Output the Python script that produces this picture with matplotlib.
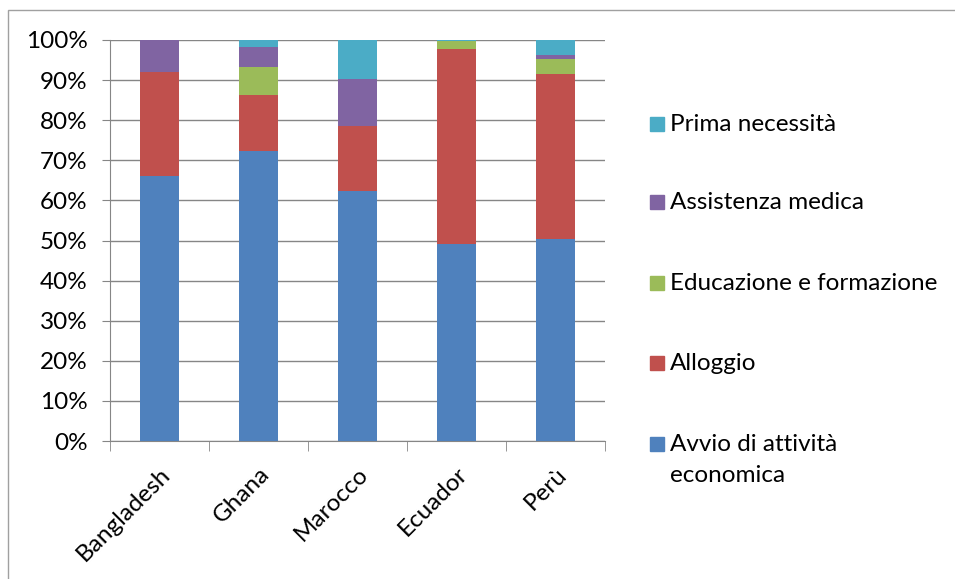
import matplotlib
matplotlib.use("Agg")
import matplotlib.pyplot as plt
from matplotlib.patches import Rectangle
from matplotlib.ticker import PercentFormatter
from matplotlib.transforms import ScaledTranslation

plt.rcParams["font.family"] = ["Lato", "DejaVu Sans"]

countries = ["Bangladesh", "Ghana", "Marocco", "Ecuador", "Perù"]
series = ["Avvio di attività\neconomica", "Alloggio", "Educazione e formazione",
          "Assistenza medica", "Prima necessità"]
colors = ["#4F81BD", "#C0504D", "#9BBB59", "#8064A2", "#4BACC6"]

avvio = [66.1, 72.3, 62.4, 49.2, 50.4]
alloggio = [25.9, 13.9, 16.2, 48.6, 41.2]
educazione = [0.0, 7.0, 0.0, 1.9, 3.7]
assistenza = [8.0, 5.0, 11.7, 0.1, 1.0]
prima = [0.0, 1.8, 9.7, 0.2, 3.7]
values = [avvio, alloggio, educazione, assistenza, prima]

fs = 17.5
fig = plt.figure(figsize=(9.55, 5.79), dpi=100)
ax = fig.add_axes([110 / 955, 1 - 441 / 579, 495 / 955, 401 / 579])

x = list(range(len(countries)))
bottom = [0.0] * len(countries)
for vals, col in zip(values, colors):
    ax.bar(x, vals, width=0.4, bottom=bottom, color=col, zorder=3)
    bottom = [b + v for b, v in zip(bottom, vals)]

grey = "#868686"
ax.set_xlim(-0.5, len(countries) - 0.5)
ax.set_ylim(0, 100)
ax.set_yticks(range(0, 101, 10))
ax.yaxis.set_major_formatter(PercentFormatter(decimals=0))
ax.grid(axis="y", color=grey, lw=1, zorder=0)
for s in ["top", "right"]:
    ax.spines[s].set_visible(False)
for s in ["left", "bottom"]:
    ax.spines[s].set_color(grey)
ax.set_xticks(x)
ax.set_xticklabels(countries, rotation=45, ha="right", va="top",
                   rotation_mode="anchor", fontsize=fs)
shift = ScaledTranslation(6 / 100, 0, fig.dpi_scale_trans)
for lab in ax.get_xticklabels():
    lab.set_transform(lab.get_transform() + shift)
ax.set_xticks([i - 0.5 for i in range(len(countries) + 1)], minor=True)
ax.tick_params(axis="x", which="major", length=0, pad=16)
ax.tick_params(axis="x", which="minor", length=7, color=grey)
ax.tick_params(axis="y", length=6, color=grey, labelsize=fs, pad=10)

# legend, top entry first
legend_y = [124, 202, 283, 363, 444]
for yy, name, col in zip(legend_y, series[::-1], colors[::-1]):
    fig.patches.append(Rectangle((650 / 955, 1 - (yy + 7) / 579), 14 / 955, 14 / 579,
                                 transform=fig.transFigure, color=col))
    for k, line in enumerate(name.split("\n")):
        fig.text(670 / 955, 1 - (yy + 7 + 31 * k) / 579, line, fontsize=fs,
                 va="baseline", ha="left")

fig.patches.append(Rectangle((8 / 955, -0.1), 1.1, 1.1 - 10 / 579,
                             transform=fig.transFigure, fill=False, ec="#A0A0A0", lw=1))

fig.savefig("out.png", dpi=100)
